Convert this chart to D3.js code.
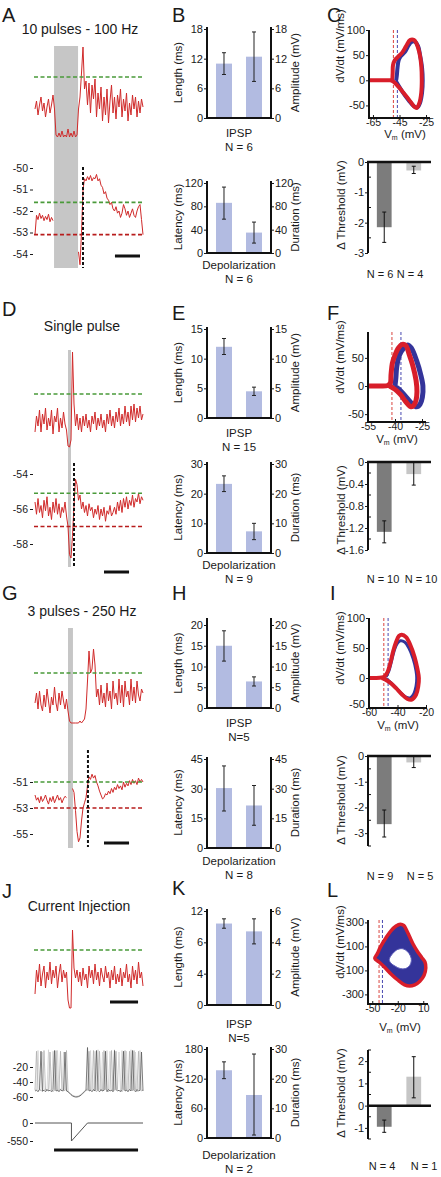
<!DOCTYPE html>
<html><head><meta charset="utf-8">
<script src="https://cdn.jsdelivr.net/npm/d3@7/dist/d3.min.js"></script>
<style>html,body{margin:0;padding:0;background:#fff}svg{display:block}</style>
</head><body>
<svg id="fig"></svg>
<script>
// ===================== DATA =====================
// ---- Panel A : 10 pulses - 100 Hz (mV, one value per sample) ----
const traceA_top = [-53.6,-53.2,-53.9,-53.4,-53.0,-53.7,-53.3,-54.0,-53.5,-53.1,-53.8,-53.4,-52.9,-53.6,
 -54.9,
 -55.0,-54.8,-55.0,-54.7,-55.0,-54.9,-55.0,-54.6,-55.0,-54.8,-55.0,-54.7,-55.0,-54.9,
 -53.6,-53.0,-51.8,-50.5,-52.6,-52.2,
 -53.4,-52.3,-53.8,-52.4,-53.1,-52.1,-54.0,-52.8,-53.6,-52.5,-54.2,-53.0,-53.9,-52.6,-54.3,-53.2,-52.4,-53.8,-53.0,-54.1,
 -52.9,-53.5,-52.6,-54.0,-53.1,-53.7,-52.8,-54.2,-53.3,-53.9,-52.9,-53.6,-53.0,-54.0,-53.2,-53.8,-53.1,-53.5];
const traceA_bot = [-53.1,-52.2,-52.4,-52.1,-52.35,-52.2,-52.45,-52.25,-52.4,-52.15,-52.5,-52.3,-52.45,
 null,null,null,null,null,null,null,null,null,null,null,null,null,null,null,null,
 -53.9,-54.5,-53.0,-51.0,-50.5,-50.6,-50.4,-50.55,-50.35,-50.6,-50.45,-50.5,-50.3,-50.6,-50.5,
 -50.8,-50.9,-51.2,-51.1,-51.4,-51.5,-51.7,-51.6,-51.9,-52.0,-51.8,-52.1,-52.0,-52.3,-52.1,-51.7,
 -51.9,-52.2,-52.0,-52.3,-52.1,-51.9,-52.2,-52.3,-52.0,-51.8,-51.7,-52.4,-53.1];
const stimA = [12.7, 28.7];
const onsetA = 32;
const scaleBarA = [53.3, 70];
const greenA_top = -52, greenA_bot = -51.6, redA_bot = -53.1;
const ticksA = [-50,-51,-52,-53,-54];

// ---- Panel D : single pulse ----
const traceD_top = [-53.9,-53.1,-53.6,-52.8,-53.9,-53.0,-53.5,-52.7,-53.8,-53.2,-53.6,-52.8,-54.0,-53.1,-53.4,-52.7,-53.9,-53.2,-53.7,-52.9,-53.5,-53.8,
 -54.6,-54.65,-54.3,-49.9,-52.5,-53.6,
 -53.0,-53.8,-53.2,-53.9,-53.1,-53.6,-53.0,-53.7,-53.3,-53.9,-53.1,-53.5,-52.9,-53.8,-53.2,-53.6,-53.0,-53.7,-53.3,-53.9,
 -53.0,-53.5,-52.8,-53.6,-53.1,-53.7,-52.9,-53.4,-52.7,-53.6,-53.0,-53.5,-52.6,-53.4,-52.9,-53.6,-52.6,-53.3,-52.5,-53.4,
 -52.7,-53.2,-52.6,-53.3,-53.0];
const traceD_bot = [-55.6,-56.3,-55.4,-56.2,-55.8,-56.5,-55.5,-56.1,-55.3,-56.4,-55.9,-56.6,-55.6,-56.2,-55.4,-56.3,-55.7,-56.5,-55.9,-56.2,-55.6,-56.4,
 -57.0,-58.6,-58.8,-57.5,-55.8,-54.3,-54.6,-55.5,
 -55.2,-56.0,-55.6,-56.2,-55.8,-56.4,-55.7,-56.1,-55.9,-56.5,-56.0,-56.3,-55.8,-56.6,-56.0,-56.4,-55.9,-56.7,-56.1,-56.3,
 -55.8,-56.4,-56.2,-55.9,-56.3,-55.6,-56.1,-55.5,-56.2,-55.4,-55.9,-55.3,-56.0,-55.5,-55.8,-55.2,-55.9,-55.4,-55.6,-55.1,
 -55.7,-55.3,-55.5];
const stimD = [22, 24];
const onsetD = 26;
const scaleBarD = [46, 62.7];
const greenD_top = -52, greenD_bot = -55.1, redD_bot = -57.0;
const ticksD = [-54,-56,-58];

// ---- Panel G : 3 pulses - 250 Hz ----
const traceG_top = [-53.5,-53.0,-53.8,-52.9,-53.6,-53.9,-53.1,-53.7,-52.8,-53.4,-54.0,-53.2,-53.6,-52.7,-53.5,-53.9,-53.0,-53.6,-52.9,-53.4,-53.8,-53.3,
 -53.9,-54.4,
 -54.5,-54.5,-54.5,-54.5,-54.5,-54.5,-54.4,-54.5,-54.4,-54.3,
 -53.8,-52.4,-50.9,-52.0,-51.8,-50.8,-51.6,-53.2,
 -52.8,-53.6,-52.6,-53.5,-53.0,-53.7,-52.5,-53.4,-52.9,-53.8,-52.4,-53.3,-53.0,-53.6,-52.3,-53.5,-52.6,-53.7,-52.4,-53.2,
 -52.9,-53.6,-52.3,-53.4,-52.7,-53.5,-52.4,-53.1,-53.4,-52.8,-53.0];
const traceG_bot = [-52.0,-52.4,-52.2,-52.6,-52.1,-52.5,-52.3,-52.0,-52.4,-52.7,-52.2,-52.5,-52.1,-52.6,-52.3,-52.0,-52.4,-52.2,-52.6,-52.3,-52.1,-52.2,
 null,null,null,
 -51.5,-51.8,-53.2,-54.8,-55.6,-55.3,-54.0,-53.0,-52.6,-52.2,-51.3,-50.6,-50.8,-50.4,-50.7,-50.5,-51.0,-51.3,-51.7,-52.0,-52.3,-52.2,-51.9,
 -52.0,-51.7,-51.9,-51.5,-51.8,-51.4,-51.6,-51.2,-51.5,-51.3,-51.6,-51.0,-51.4,-51.1,-51.3,-50.9,-51.2,-50.8,-51.1,-50.9,
 -51.2,-50.7,-51.0,-50.8,-51.0];
const stimG = [22, 25.3];
const onsetG = 35.3;
const scaleBarG = [46, 62.7];
const greenG_top = -52, greenG_bot = -51, redG_bot = -53;
const ticksG = [-51,-53,-55];

// ---- Panel J : current injection ----
const traceJ_top = [-54.2,-53.0,-53.6,-52.7,-53.8,-53.2,-52.8,-53.9,-53.1,-53.5,-52.6,-53.7,-53.0,-53.4,-52.8,-53.9,-53.2,-52.7,-53.6,-53.0,-53.4,-53.1,
 -54.5,-54.9,-54.9,-51.0,-52.9,-53.4,
 -53.0,-53.6,-53.1,-53.8,-52.9,-53.5,-53.2,-53.9,-52.8,-53.4,-53.0,-53.7,-52.7,-53.5,-53.1,-53.8,-52.9,-53.3,-53.6,-52.8,
 -53.4,-53.1,-53.9,-53.0,-53.5,-52.8,-53.7,-53.2,-53.6,-52.9,-53.8,-53.1,-53.4,-52.7,-53.6,-53.2,-53.9,-52.8,-53.5,-53.0,
 -53.7,-52.6,-53.4,-53.1,-53.8];
const greenJ_top = -52;
const scaleBarJ_top = [50, 68.7];
const spikesJ_light = [-49,-51,2,-50,-52,0,-51,-49,-52,3,-50,-51,1,-52,-50,2,-51,-49,-52,0,-50,-51,
 -52,-54,-56,-57.5,-58.5,-59,-59,-58.5,-57.5,-56,-54,-52,-50,-49,-51,2,-50,-52,1,-51,3,-50,-52,0,-51,-49,2,-51,1,-52,-50,3,-51,-49,0,-52,2,-50,-51,1,-52,-50,3,-51,-49,0,-52,-50,2,-51,-50];
const spikesJ_mid = [-51,1,-52,-50,-51,-53,2,-51,-50,-52,0,-51,-53,-50,2,-52,-51,1,-50,-52,-51,2,
 -52,-54.5,-56.5,-58,-59,-59.5,-59.5,-59,-58,-56.5,-54.5,-52.5,-50.5,-51,1,-52,-50,2,-51,-53,-50,1,-51,-52,2,-50,-51,-53,-50,2,-52,-51,1,-50,-52,-51,-53,-50,2,-51,-52,1,-50,-52,2,-51,-53,1,-50,-52,-51];
const spikesJ_dark = [-52,-51,-53,-50,1,-52,-51,-53,-50,-52,-51,-53,-50,2,-52,-51,-53,-50,-52,-51,0,-52,
 -53,-55,-57,-58.5,-59.5,-60,-60,-59.5,-58.5,-57,-55,-53,-51,6,-52,-51,-53,-50,-52,2,-51,-53,-50,-52,-51,1,-53,-50,-52,-51,-53,2,-50,-52,-51,-53,-50,1,-52,-51,-53,-50,-52,2,-51,-53,-50,-52,-51,0,-52];
const ticksJ_vm = [-20,-40,-60];
const currentT = [0, 24.3, 24.3, 35, 72];
const currentI = [0, 0, -550, 0, 0];
const ticksJ_i = [0, -550];
const scaleBarJ_bot = [12.7, 68.7];

// ---- Bar charts (IPSP: Length ms / Amplitude mV ; Depolarization: Latency ms / Duration ms) ----
const ipspB = [11.0, 12.4], ipspB_err = [[8.8,13.2],[7.4,17.4]];
const depB  = [86, 35],     depB_err  = [[58,113],[17,53]];
const ipspE = [12.0, 4.5],  ipspE_err = [[10.7,13.4],[3.8,5.2]];
const depE  = [23.3, 7.3],  depE_err  = [[20.7,26.0],[4.5,10.0]];
const ipspH = [15.0, 6.4],  ipspH_err = [[11.3,18.6],[5.3,7.5]];
const depH  = [30.3, 21.5], depH_err  = [[18.7,41.5],[11.5,31.6]];
const ipspK = [10.4, 4.7],  ipspK_err = [[9.8,11.0],[3.9,5.5]];
const depK  = [137, 14.5],  depK_err  = [[120,154],[1,28.3]];
const nIPSP = ["N = 6", "N = 15", "N=5", "N=5"];
const nDep  = ["N = 6", "N = 9", "N = 8", "N = 2"];

// ---- Phase plots (Vm mV, dV/dt mV/ms) ----
const loopC_red  = [[-68,0],[-60,0],[-53,0],[-50.8,1],[-50.2,12],[-49.9,30],[-48.5,40],[-46,47],[-43,55],[-40,68],[-37,80],[-34,80],[-32,72],[-30,55],[-28.6,30],[-28.2,0],[-28.6,-25],[-30,-45],[-32,-55],[-34,-52],[-38,-38],[-42,-25],[-46,-12],[-50,-2],[-52,0]];
const loopC_blue = [[-47.5,0],[-47,10],[-46.5,25],[-45.6,40],[-44,48],[-41,56],[-38,70],[-36,76],[-33.5,77],[-31,68],[-29.5,50],[-28,25],[-27.5,0],[-28,-25],[-29.5,-45],[-31.5,-54],[-34,-52],[-38,-40],[-43,-22],[-47,-5],[-48,0]];
const loopF_red  = [[-55,0],[-48,0],[-44,1],[-42.6,5],[-42.2,20],[-41.5,40],[-40,55],[-38,68],[-36,74],[-34,72],[-32,55],[-30,35],[-28.3,10],[-27.8,-10],[-28.3,-25],[-29.5,-34],[-31,-37],[-34,-28],[-37,-15],[-40,-6],[-43,0]];
const loopF_blue = [[-40,0],[-39.5,15],[-39,35],[-37.5,55],[-35,68],[-33,73],[-31,68],[-28,45],[-25.7,20],[-24.5,0],[-24.8,-20],[-26,-32],[-28,-37],[-31,-30],[-35,-15],[-39,-3],[-41,0]];
const loopI_red  = [[-60,0],[-55,0],[-51,1],[-49,3],[-47,10],[-45,25],[-43,45],[-41,60],[-39,70],[-37,72],[-34,68],[-31,55],[-28,35],[-26,15],[-25,0],[-25.5,-15],[-27,-28],[-30,-36],[-33,-35],[-37,-27],[-41,-17],[-45,-8],[-49,-2],[-51,0]];
const loopI_blue = [[-48,2],[-46,12],[-44,30],[-42,48],[-40,58],[-38,62],[-35,60],[-32,50],[-29,32],[-27,12],[-26.5,0],[-27,-14],[-28.5,-26],[-31,-33],[-34,-32],[-38,-24],[-42,-14],[-46,-5],[-49,0]];
const loopL_outer = [[-47,0],[-44,40],[-40,100],[-34,170],[-28,230],[-22,270],[-17,285],[-13,275],[-10,240],[-6,180],[-2,120],[3,60],[8,10],[12,-30],[13,-80],[11,-140],[6,-190],[0,-220],[-6,-230],[-12,-220],[-20,-180],[-28,-130],[-36,-70],[-42,-30]];
const loopL_inner = [[-30,-10],[-26,40],[-20,75],[-14,80],[-9,60],[-5,20],[-4,-20],[-6,-60],[-11,-85],[-17,-85],[-23,-65],[-28,-40]];
const thrC = [-49.6, -46.6], thrF = [-41.7, -36.7], thrI = [-49.6, -46.6], thrL = [-42, -38];

// ---- Delta threshold bars (mV) ----
const dThrC = [-2.15, -0.28], dThrC_err = [[-2.65,-1.65],[-0.38,-0.14]];
const dThrF = [-1.27, -0.22], dThrF_err = [[-1.47,-1.07],[-0.42,0]];
const dThrI = [-2.65, -0.25], dThrI_err = [[-3.15,-2.1],[-0.45,0]];
const dThrL = [-0.95, 1.3],   dThrL_err = [[-1.2,-0.65],[0.35,2.2]];
const nThrC = ["N = 6","N = 4"], nThrF = ["N = 10","N = 10"], nThrI = ["N = 9","N = 5"], nThrL = ["N = 4","N = 1"];

// ===================== DRAWING =====================
const FONT = 'Arial, "Liberation Sans", Helvetica, sans-serif';
const INK = "#1a1a1a";
const RED = "#d02a2a", GREEN = "#4a9a3a", DRED = "#b81c1c";
const BAR = "#b2bbe1", DARKG = "#7c7c7c", LIGHTG = "#c6c6c6";
const PRED = "#d81e2a", PBLUE = "#34349a";

const svg = d3.select("#fig").attr("width",441).attr("height",1177).style("font-family",FONT);
svg.append("rect").attr("width",441).attr("height",1177).attr("fill","#fff");

function L(x1,y1,x2,y2,c,w,dash){const l=svg.append("line").attr("x1",x1).attr("y1",y1).attr("x2",x2).attr("y2",y2).attr("stroke",c).attr("stroke-width",w);if(dash)l.attr("stroke-dasharray",dash);return l;}
function T(x,y,s,size,anchor){return svg.append("text").attr("x",x).attr("y",y).attr("font-size",size).attr("text-anchor",anchor||"start").attr("fill",INK).text(s);}
function TR(x,y,s,size){return svg.append("text").attr("transform",`translate(${x},${y}) rotate(-90)`).attr("font-size",size).attr("text-anchor","middle").attr("fill",INK).text(s);}
function styleAxis(g,size){g.select(".domain").remove();g.selectAll("text").attr("font-size",size||10.5).attr("font-family",FONT).attr("fill",INK);g.selectAll("line").attr("stroke",INK);}

// panel letters
[["A",2,22],["B",172,22],["C",327,22],["D",2,316],["E",172,320],["F",327,320],
 ["G",2,600],["H",172,600],["I",330,600],["J",2,898],["K",172,895],["L",327,897]]
 .forEach(p=>T(p[1],p[2],p[0],20));

// ---------- trace panels ----------
const xT = d3.scaleLinear().domain([0,72]).range([35,143]);
function trace(vals,y,c,w,op){svg.append("path").datum(vals).attr("d",d3.line().defined(d=>d!==null).x((d,i)=>xT(i)).y(d=>y(d))).attr("fill","none").attr("stroke",c).attr("stroke-width",w).attr("stroke-linejoin","round").attr("opacity",op||1);}
function level(v,y,c){L(34,y(v),143,y(v),c,1.6,"4,2.5");}
function vAxis(y,ticks){const g=svg.append("g").attr("transform","translate(33,0)").call(d3.axisLeft(y).tickValues(ticks).tickSize(3).tickPadding(2).tickFormat(d=>String(d)));styleAxis(g,10.5);}
function stim(win,y1,y2){svg.append("rect").attr("x",xT(win[0])).attr("width",xT(win[1])-xT(win[0])).attr("y",y1).attr("height",y2-y1).attr("fill","#c6c6c6");}
function onset(t,y1,y2){L(xT(t),y1,xT(t),y2,"#111",2,"3,2");}
function sbar(win,y){L(xT(win[0]),y,xT(win[1]),y,"#111",3);}

// A
T(80,34,"10 pulses - 100 Hz",14,"middle");
const yA1 = d3.scaleLinear().domain([-55.5,-50]).range([147,37]);
const yA2 = d3.scaleLinear().domain([-54,-50]).range([254,168]);
stim(stimA,46,268);
trace(traceA_top,yA1,RED,1);
level(greenA_top,yA1,GREEN);
trace(traceA_bot,yA2,RED,1);
level(greenA_bot,yA2,GREEN); level(redA_bot,yA2,DRED);
onset(onsetA,167,268);
vAxis(yA2,ticksA);
sbar(scaleBarA,256);

// D
T(82,331,"Single pulse",14,"middle");
const yD1 = d3.scaleLinear().domain([-55.5,-49]).range([464,334]);
const yD2 = d3.scaleLinear().domain([-58,-54]).range([544,474]);
stim(stimD,350,567);
trace(traceD_top,yD1,RED,1);
level(greenD_top,yD1,GREEN);
trace(traceD_bot,yD2,RED,1);
level(greenD_bot,yD2,GREEN); level(redD_bot,yD2,DRED);
onset(onsetD,463,567);
vAxis(yD2,ticksD);
sbar(scaleBarD,572);

// G
T(82,616,"3 pulses - 250 Hz",14,"middle");
const yG1 = d3.scaleLinear().domain([-55.5,-49]).range([743,613]);
const yG2 = d3.scaleLinear().domain([-55,-51]).range([834,782]);
stim(stimG,628,848);
trace(traceG_top,yG1,RED,1);
level(greenG_top,yG1,GREEN);
trace(traceG_bot,yG2,RED,1);
level(greenG_bot,yG2,GREEN); level(redG_bot,yG2,DRED);
onset(onsetG,750,847);
vAxis(yG2,ticksG);
sbar(scaleBarG,843);

// J
T(79,911,"Current Injection",14,"middle");
const yJ1 = d3.scaleLinear().domain([-55.5,-49]).range([1020,890]);
trace(traceJ_top,yJ1,RED,1);
level(greenJ_top,yJ1,GREEN);
sbar(scaleBarJ_top,1002);
const yJ2 = d3.scaleLinear().domain([-60,0]).range([1097,1052]);
trace(spikesJ_light,yJ2,"#d2d2d2",0.8);
trace(spikesJ_mid,yJ2,"#b0b0b0",0.8);
trace(spikesJ_dark,yJ2,"#5a5a5a",0.8);
vAxis(yJ2,ticksJ_vm);
const yJ3 = d3.scaleLinear().domain([-550,0]).range([1141,1123]);
svg.append("path").datum(currentT.map((t,i)=>[t,currentI[i]])).attr("d",d3.line().x(d=>xT(d[0])).y(d=>yJ3(d[1]))).attr("fill","none").attr("stroke","#555").attr("stroke-width",1);
vAxis(yJ3,ticksJ_i);
sbar(scaleBarJ_bot,1150);

// ---------- bar charts ----------
function barChart(o){
  const xb=d3.scaleBand().domain([0,1]).range([207,271]).paddingInner(0.467).paddingOuter(0.3);
  const yL=d3.scaleLinear().domain(o.domL).range([o.y0,o.yTop]);
  const yR=d3.scaleLinear().domain(o.domR).range([o.y0,o.yTop]);
  const ys=[yL,yR];
  svg.append("g").selectAll("rect").data(o.vals).join("rect")
    .attr("x",(d,i)=>xb(i)).attr("width",xb.bandwidth())
    .attr("y",(d,i)=>ys[i](d)).attr("height",(d,i)=>o.y0-ys[i](d)).attr("fill",BAR);
  o.errs.forEach((e,i)=>{const cx=xb(i)+xb.bandwidth()/2;
    L(cx,ys[i](e[0]),cx,ys[i](e[1]),"#222",1);
    L(cx-2,ys[i](e[0]),cx+2,ys[i](e[0]),"#222",1);
    L(cx-2,ys[i](e[1]),cx+2,ys[i](e[1]),"#222",1);});
  const gL=svg.append("g").attr("transform","translate(207,0)").call(d3.axisLeft(yL).tickValues(o.ticksL).tickFormat((d,i)=>o.labL?o.labL[i]:String(d)).tickSize(3).tickPadding(1));
  styleAxis(gL,11);
  const gR=svg.append("g").attr("transform","translate(271,0)").call(d3.axisRight(yR).tickValues(o.ticksR).tickFormat(d=>String(d)).tickSize(3).tickPadding(1));
  styleAxis(gR,11);
  L(207,o.y0+1,207,o.axisTop,"#111",2);
  L(271,o.y0+1,271,o.axisTop,"#111",2);
  L(206,o.y0,272,o.y0,"#111",2);
  const mid=(o.y0+o.axisTop)/2;
  TR(182,mid,o.titleL,11.5);
  TR(299,mid,o.titleR,11.5);
  T(239,o.capY,o.cap,11.5,"middle");
  T(239,o.capY+14,o.n,11.5,"middle");
}
barChart({y0:118,yTop:29,axisTop:27,domL:[0,18],domR:[0,18],ticksL:[0,6,12,18],ticksR:[0,6,12,18],vals:ipspB,errs:ipspB_err,titleL:"Length (ms)",titleR:"Amplitude (mV)",cap:"IPSP",n:nIPSP[0],capY:137});
barChart({y0:253,yTop:183,axisTop:181,domL:[0,120],domR:[0,120],ticksL:[0,40,80,120],ticksR:[0,40,80,120],vals:depB,errs:depB_err,titleL:"Latency (ms)",titleR:"Duration (ms)",cap:"Depolarization",n:nDep[0],capY:269});
barChart({y0:418,yTop:329,axisTop:327,domL:[0,15],domR:[0,15],ticksL:[0,5,10,15],ticksR:[0,5,10,15],vals:ipspE,errs:ipspE_err,titleL:"Length (ms)",titleR:"Amplitude (mV)",cap:"IPSP",n:nIPSP[1],capY:437});
barChart({y0:553,yTop:464,axisTop:462,domL:[0,30],domR:[0,30],ticksL:[0,10,20,30],ticksR:[0,10,20,30],vals:depE,errs:depE_err,titleL:"Latency (ms)",titleR:"Duration (ms)",cap:"Depolarization",n:nDep[1],capY:569});
barChart({y0:708,yTop:625,axisTop:618,domL:[0,20],domR:[0,20],ticksL:[0,5,10,15,20],ticksR:[0,5,10,15,20],vals:ipspH,errs:ipspH_err,titleL:"Length (ms)",titleR:"Amplitude (mV)",cap:"IPSP",n:nIPSP[2],capY:727});
barChart({y0:848,yTop:759,axisTop:757,domL:[0,45],domR:[0,45],ticksL:[0,15,30,45],ticksR:[0,15,30,45],vals:depH,errs:depH_err,titleL:"Latency (ms)",titleR:"Duration (ms)",cap:"Depolarization",n:nDep[2],capY:865});
barChart({y0:1005,yTop:911,axisTop:909,domL:[0,12],domR:[0,6],ticksL:[0,4,8,12],labL:["0","4","6","12"],ticksR:[0,2,4,6],vals:ipspK,errs:ipspK_err,titleL:"Length (ms)",titleR:"Amplitude (mV)",cap:"IPSP",n:nIPSP[3],capY:1028});
barChart({y0:1138,yTop:1049,axisTop:1047,domL:[0,180],domR:[0,30],ticksL:[0,60,120,180],ticksR:[0,10,20,30],vals:depK,errs:depK_err,titleL:"Latency (ms)",titleR:"Duration (ms)",cap:"Depolarization",n:nDep[3],capY:1159});

// ---------- phase plots ----------
function phase(o){
  const x=d3.scaleLinear().domain(o.xd).range(o.xr);
  const y=d3.scaleLinear().domain(o.yd).range(o.yr);
  L(x(o.thr[0]),o.yr[1],x(o.thr[0]),o.yr[0],"#d9443f",1,"3,2");
  L(x(o.thr[1]),o.yr[1],x(o.thr[1]),o.yr[0],"#4848b0",1,"3,2");
  if(o.filled){
    const lc=d3.line().x(d=>x(d[0])).y(d=>y(d[1])).curve(d3.curveCatmullRomClosed);
    svg.append("path").datum(o.red).attr("d",lc).attr("fill",PBLUE).attr("stroke",PRED).attr("stroke-width",3.5).attr("stroke-linejoin","round");
    svg.append("path").datum(o.blue).attr("d",lc).attr("fill","#fff").attr("stroke","#5a5ab8").attr("stroke-width",1);
  } else {
    const lo=d3.line().x(d=>x(d[0])).y(d=>y(d[1])).curve(d3.curveCatmullRom);
    svg.append("path").datum(o.blue).attr("d",lo).attr("fill","none").attr("stroke",PBLUE).attr("stroke-width",o.wb).attr("stroke-linejoin","round");
    svg.append("path").datum(o.red).attr("d",lo).attr("fill","none").attr("stroke",PRED).attr("stroke-width",o.wr).attr("stroke-linejoin","round");
  }
  const ga=svg.append("g").attr("transform",`translate(${o.xr[0]},0)`).call(d3.axisLeft(y).tickValues(o.yt).tickSize(3).tickPadding(1).tickFormat(d=>String(d)));
  styleAxis(ga,11);
  if(o.nudge!==undefined) ga.selectAll(".tick text").filter(d=>d===o.nudge).attr("dy","-0.05em");
  const gb=svg.append("g").attr("transform",`translate(0,${o.yr[0]})`).call(d3.axisBottom(x).tickValues(o.xt).tickSize(-3).tickPadding(1).tickFormat(d=>String(d)));
  styleAxis(gb,10.5);
  L(o.xr[0],o.yr[0]+1,o.xr[0],o.yr[1],"#111",2);
  L(o.xr[0]-1,o.yr[0],o.xEnd,o.yr[0],"#111",2);
  TR(344,o.labY,"dV/dt (mV/ms)",11.5);
  const t=svg.append("text").attr("x",o.vmX).attr("y",o.vmY).attr("text-anchor","middle").attr("font-size",11.5).attr("fill",INK);
  t.append("tspan").text("V");
  t.append("tspan").attr("font-size",7).attr("dy",2).text("m");
  t.append("tspan").attr("dy",-2).text(" (mV)");
}
phase({xd:[-68,-22],xr:[369,430],xEnd:430,yd:[-75,100],yr:[118,30],xt:[-65,-45,-25],yt:[100,50,0,-50],red:loopC_red,blue:loopC_blue,thr:thrC,wr:4,wb:4,labY:46,vmX:405,vmY:138});
phase({xd:[-55,-25],xr:[368,422],xEnd:426,yd:[-64,96],yr:[422,332],xt:[-55,-40,-25],yt:[50,0,-50],red:loopF_red,blue:loopF_blue,thr:thrF,wr:5,wb:5,labY:357,vmX:397,vmY:443});
phase({xd:[-60,-20],xr:[369,426],xEnd:427,yd:[-50,100],yr:[708,618],xt:[-60,-40,-20],yt:[100,50,0,-50],red:loopI_red,blue:loopI_blue,thr:thrI,wr:4,wb:3,nudge:-50,labY:648,vmX:398,vmY:729});
phase({xd:[-55,15],xr:[368,427.5],xEnd:428,yd:[-380,320],yr:[1004,920],xt:[-50,-20,10],yt:[300,100,-100,-300],red:loopL_outer,blue:loopL_inner,thr:thrL,filled:true,labY:942,vmX:400,vmY:1031});

// ---------- delta threshold bars ----------
function thresh(o){
  const y=d3.scaleLinear().domain(o.yd).range(o.yr);
  const xb=d3.scaleBand().domain([0,1]).range([368,430]).paddingInner(0.5).paddingOuter(0.3);
  o.vals.forEach((v,i)=>svg.append("rect").attr("x",xb(i)).attr("width",xb.bandwidth()).attr("y",Math.min(y(0),y(v))).attr("height",Math.abs(y(v)-y(0))).attr("fill",[DARKG,LIGHTG][i]));
  o.errs.forEach((e,i)=>{const cx=xb(i)+xb.bandwidth()/2;
    L(cx,y(e[0]),cx,y(e[1]),"#111",1);
    L(cx-2,y(e[0]),cx+2,y(e[0]),"#111",1);
    L(cx-2,y(e[1]),cx+2,y(e[1]),"#111",1);});
  const g=svg.append("g").attr("transform","translate(368,0)").call(d3.axisLeft(y).tickValues(o.major).tickSize(3).tickPadding(1).tickFormat(d=>String(d)));
  styleAxis(g,11);
  o.minor.forEach(v=>L(368,y(v),371,y(v),"#111",1));
  L(368,o.yr[0],368,o.yr[1],"#111",2);
  L(367,y(0),431,y(0),"#111",2.5);
  TR(345,o.labY,"\u0394 Threshold (mV)",11.5);
  o.n.forEach((s,i)=>T(o.nX[i],o.nY,s,11,"middle"));
}
thresh({yd:[-3,0],yr:[253,162],major:[0,-1,-2,-3],minor:[-0.5,-1.5,-2.5],vals:dThrC,errs:dThrC_err,labY:205,n:nThrC,nX:[380,410],nY:278});
thresh({yd:[-1.6,0],yr:[550,462],major:[0,-0.4,-0.8,-1.2,-1.6],minor:[-0.2,-0.6,-1.0,-1.4],vals:dThrF,errs:dThrF_err,labY:510,n:nThrF,nX:[383,421],nY:583});
thresh({yd:[-3.5,0],yr:[846,756],major:[0,-1,-2,-3],minor:[-0.5,-1.5,-2.5,-3.5],vals:dThrI,errs:dThrI_err,labY:800,n:nThrI,nX:[380,420],nY:880});
thresh({yd:[-1.5,2.5],yr:[1139,1050],major:[2,1,0,-1],minor:[2.5,1.5,0.5,-0.5,-1.5],vals:dThrL,errs:dThrL_err,labY:1093,n:nThrL,nX:[382,424],nY:1170});
</script>
</body></html>
